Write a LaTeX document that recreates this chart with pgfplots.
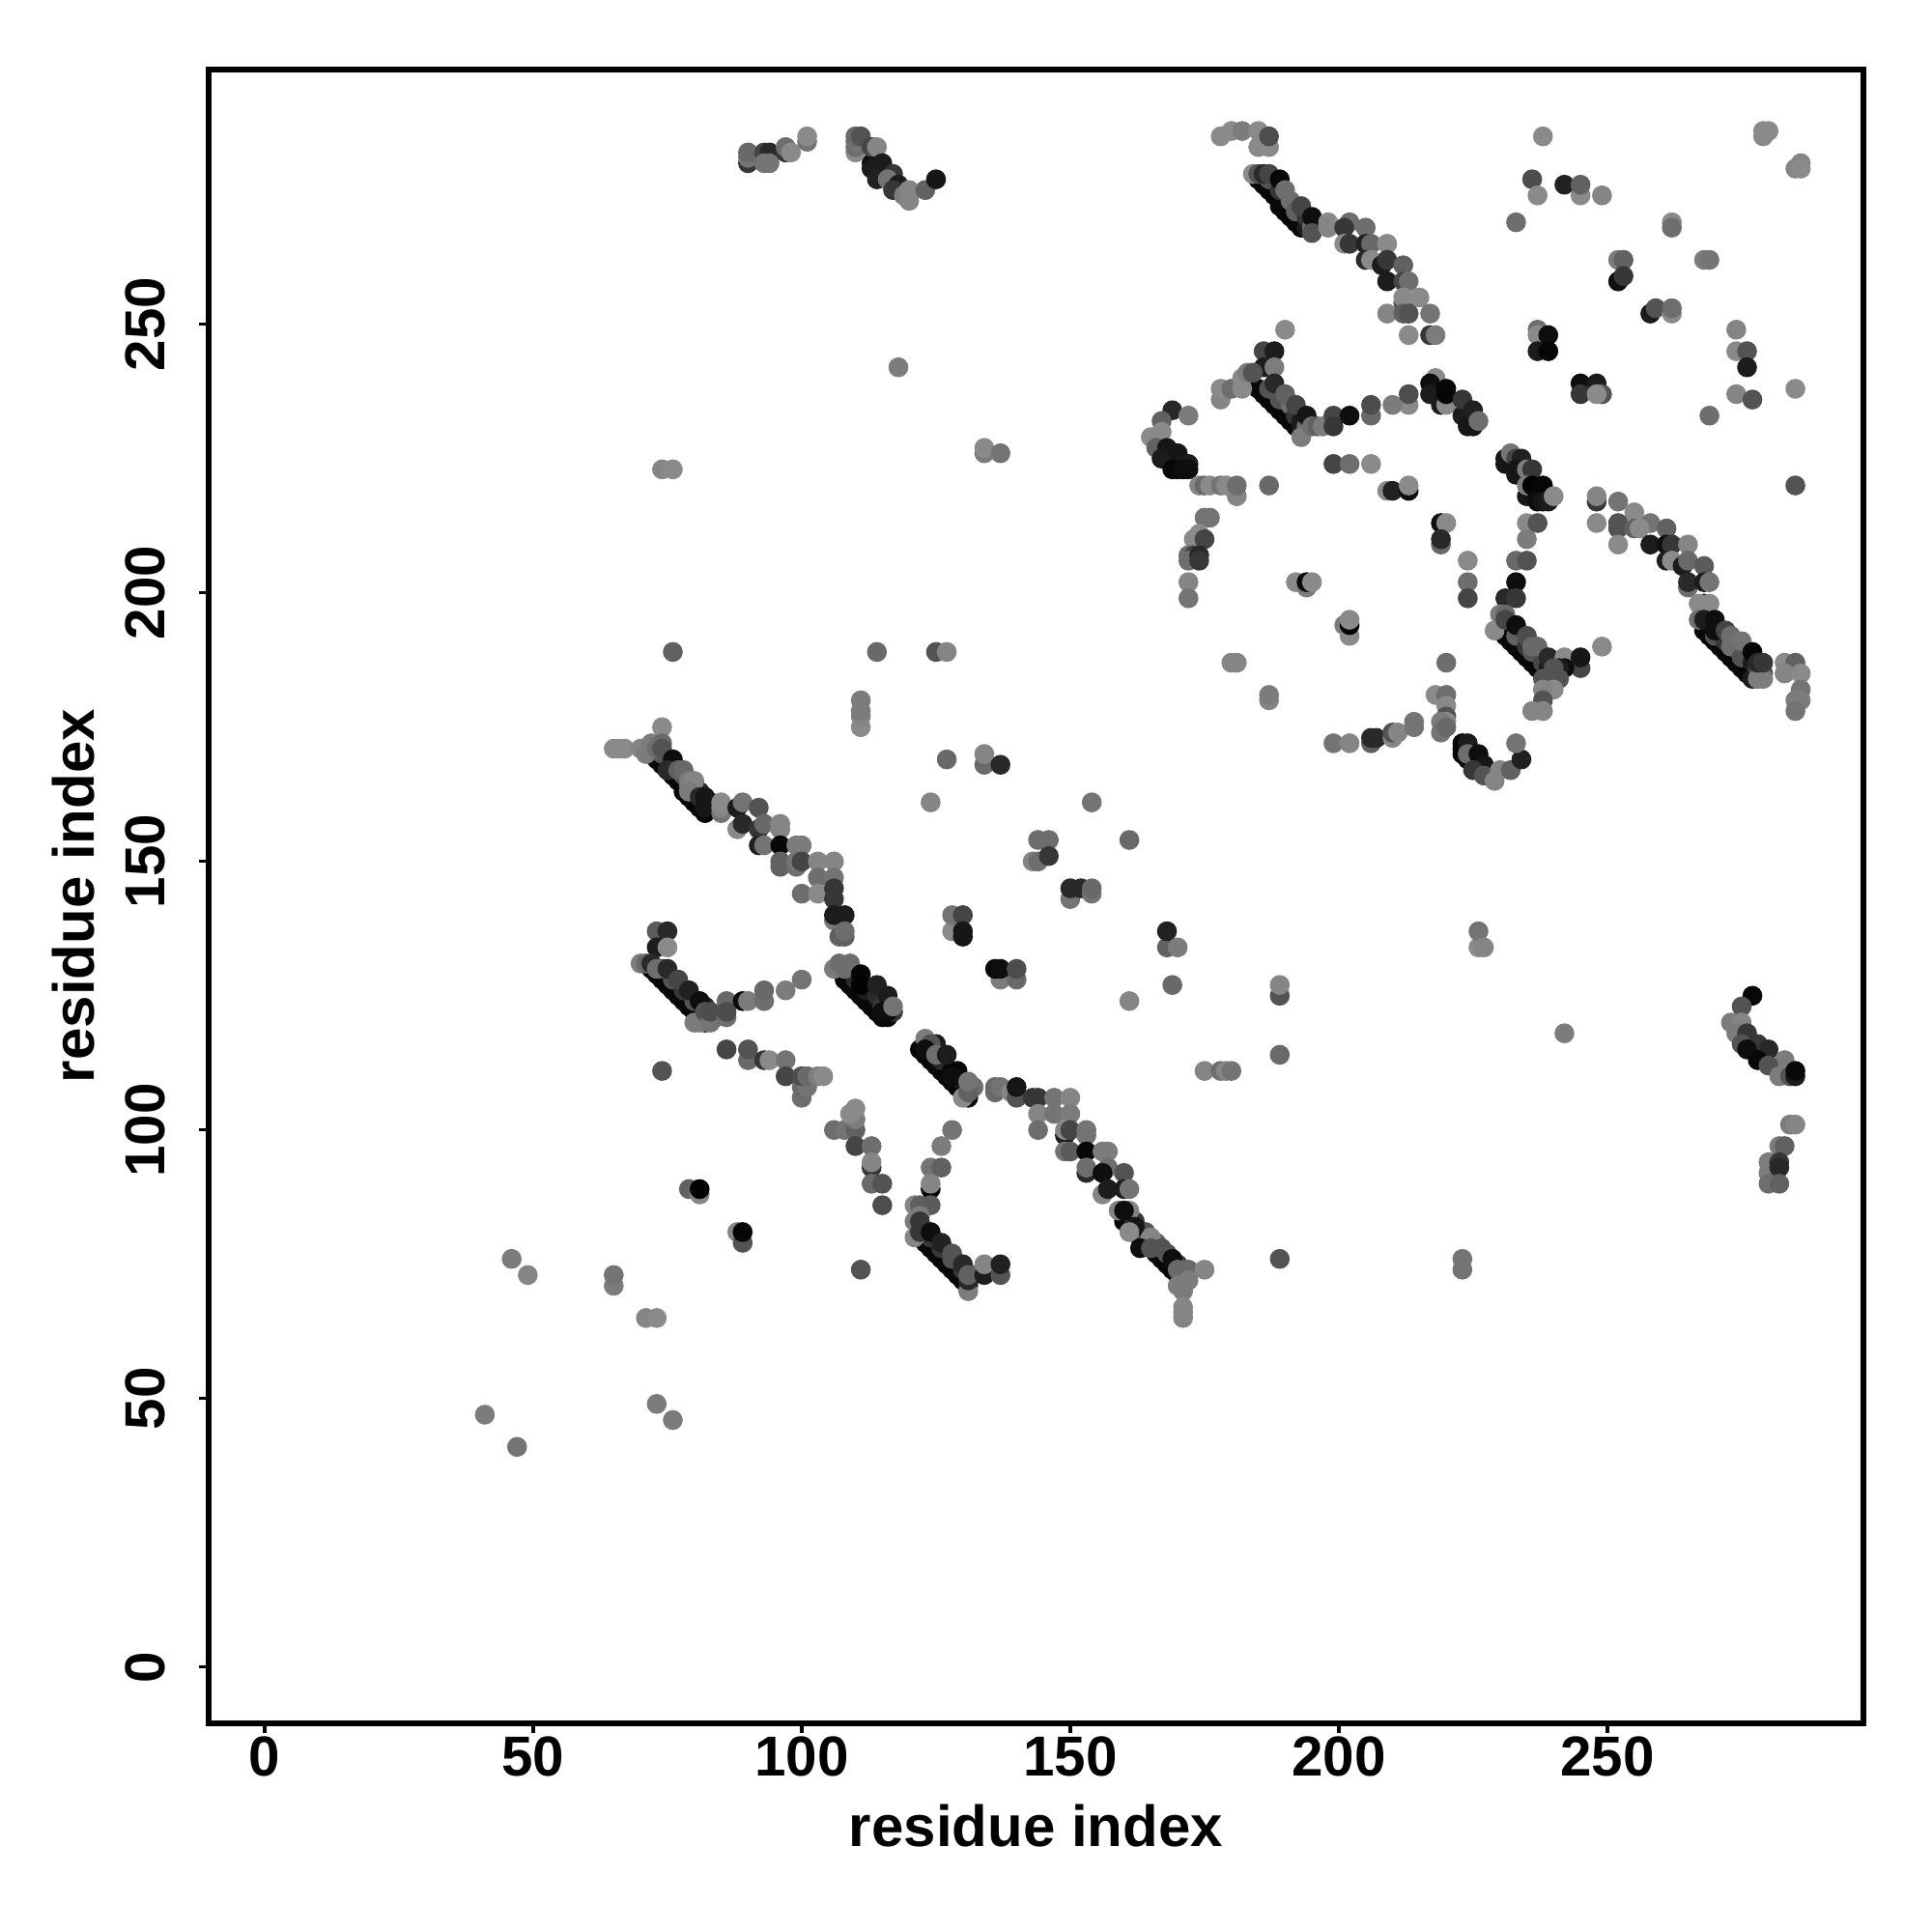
\documentclass[border=0pt]{standalone}
\usepackage{fontspec}
\setmainfont{Liberation Sans}
\usepackage{pgfplots}
\usepackage{pgfplotstable}
\pgfplotsset{compat=1.18}

% x y g (g = grey level, drawn in table order)
\pgfplotstableread{
x y g
185 277 .03
186 276 .03
187 275 .03
188 274 .03
189 272 .03
190 271 .03
191 270 .03
192 269 .03
193 268 .03
194 268 .1
185 238 .03
186 237 .03
187 236 .03
188 235 .03
189 234 .03
190 233 .03
191 232 .03
192 231 .03
193 230 .1
231 192 .03
232 191 .03
233 190 .03
234 189 .03
235 188 .03
236 187 .03
237 186 .03
238 185 .03
239 184 .03
268 193 .03
269 192 .03
270 191 .03
271 190 .03
272 189 .03
273 188 .03
274 187 .03
275 186 .03
276 185 .03
277 184 .1
72 170 .03
73 169 .03
74 168 .03
75 167 .03
76 166 .03
77 165 .03
78 163 .03
79 162 .03
80 161 .03
81 160 .03
82 159 .03
72 130 .03
73 129 .03
74 128 .03
75 127 .03
76 126 .03
77 125 .03
78 124 .03
79 123 .03
80 122 .03
81 121 .03
82 120 .1
108 128 .03
109 127 .03
110 126 .03
111 125 .03
112 124 .03
113 123 .03
114 122 .03
115 121 .03
116 121 .03
122 115 .03
123 114 .03
124 113 .03
125 112 .03
126 111 .03
127 110 .03
128 109 .03
129 108 .03
130 107 .03
131 106 .05
122 80 .03
123 79 .03
124 78 .03
125 77 .03
126 76 .03
127 75 .03
128 74 .03
129 73 .03
130 72 .03
131 71 .05
160 83 .03
161 82 .03
162 81 .03
163 80 .03
164 79 .03
165 78 .03
166 77 .03
167 76 .03
168 75 .03
169 74 .03
170 73 .05
223 172 .03
223 171 .03
223 170 .03
224 169 .03
225 168 .03
226 167 .05
167 226 .03
168 225 .03
169 224 .03
170 223 .03
113 280 .05
114 279 .05
115 278 .05
116 277 .05
117 276 .05
187 277 .3
189 275 .2
191 273 .4
192 271 .35
194 270 .2
195 268 .4
187 238 .3
189 236 .3
191 235 .4
192 233 .2
193 232 .1
194 231 .4
233 192 .35
235 190 .2
236 189 .3
238 187 .25
239 186 .1
270 192 .3
272 191 .2
273 190 .4
275 188 .3
277 187 .1
278 186 .25
74 170 .3
76 168 .2
78 166 .3
79 164 .4
81 163 .15
83 161 .2
74 130 .3
76 128 .3
78 126 .2
80 124 .3
82 123 .15
84 121 .35
110 128 .15
112 126 .1
114 125 .15
115 123 .2
117 122 .2
124 115 .2
126 113 .15
128 111 .03
130 109 .1
132 108 .4
124 80 .2
126 78 .2
128 76 .3
130 74 .2
132 73 .4
162 83 .2
164 81 .3
166 79 .35
168 77 .3
170 75 .2
171 74 .35
178 285 .5
180 286 .5
182 286 .45
185 286 .5
185 283 .5
187 283 .5
187 285 .28
184 278 .5
185 278 .3
186 278 .15
187 278 .25
189 277 .03
190 275 .4
193 272 .25
195 270 .05
195 267 .3
198 269 .5
198 268 .48
202 269 .4
201 268 .2
205 268 .4
201 265 .5
202 265 .2
205 265 .12
206 265 .38
209 265 .5
205 262 .15
206 262 .5
208 261 .1
209 262 .2
212 261 .35
209 258 .1
212 258 .25
213 258 .4
212 254 .3
212 255 .5
215 255 .5
209 252 .48
212 252 .35
213 252 .3
217 252 .42
213 248 .5
217 248 .2
218 248 .45
190 249 .5
186 245 .25
188 245 .1
186 242 .1
188 242 .45
178 236 .48
178 238 .5
180 238 .4
182 240 .5
182 238 .5
183 241 .45
184 241 .3
188 239 .15
190 237 .35
192 235 .25
194 233 .08
193 229 .45
195 231 .4
196 231 .35
197 231 .45
199 233 .25
199 231 .2
202 233 .05
206 233 .38
206 235 .28
213 235 .5
210 235 .45
213 237 .28
218 240 .5
217 239 .05
217 237 .1
219 235 .1
220 235 .5
220 238 .02
220 237 .02
223 233 .1
223 236 .2
224 231 .08
225 231 .08
225 234 .12
226 232 .4
238 285 .5
236 277 .28
237 274 .5
242 276 .12
245 274 .5
245 276 .35
249 274 .48
233 269 .4
262 269 .5
262 268 .4
268 262 .45
269 262 .42
252 262 .45
253 262 .35
252 258 .05
253 259 .2
258 252 .1
259 253 .3
262 252 .5
262 253 .4
279 285 .5
279 286 .5
280 286 .5
285 279 .48
286 280 .48
286 279 .5
237 249 .4
237 248 .5
239 248 .05
237 245 .1
239 245 .02
274 249 .48
274 245 .5
276 245 .3
276 242 .1
245 239 .05
248 239 .1
245 237 .2
249 237 .3
248 237 .5
274 237 .48
277 236 .3
269 233 .4
285 238 .5
285 220 .3
169 234 .15
172 233 .45
167 232 .35
167 230 .5
165 229 .5
166 227 .35
168 227 .08
167 225 .1
170 226 .08
169 223 .03
172 224 .1
172 223 .05
171 223 .05
174 220 .48
175 220 .38
176 220 .5
178 220 .42
179 220 .5
181 218 .48
181 220 .4
187 220 .38
199 224 .25
202 224 .4
206 224 .5
209 219 .5
210 219 .12
213 219 .05
213 220 .5
175 214 .42
176 214 .42
174 211 .5
173 210 .5
175 210 .25
172 207 .4
173 207 .25
172 206 .4
174 207 .15
174 206 .2
172 202 .48
172 199 .42
192 202 .5
194 201 .45
194 202 .03
195 202 .5
201 194 .45
202 192 .5
202 194 .01
202 195 .5
180 187 .48
181 187 .48
187 180 .48
187 181 .45
220 187 .4
219 213 .05
220 213 .5
219 209 .38
219 210 .15
224 206 .5
224 202 .4
224 199 .25
235 213 .5
237 213 .3
235 210 .45
233 206 .38
235 206 .3
233 202 .05
231 199 .15
233 199 .2
231 224 .08
231 225 .08
232 226 .42
233 225 .25
234 225 .12
233 223 .08
233 222 .08
235 223 .45
236 223 .2
235 218 .08
235 220 .45
236 220 .01
238 220 .02
237 218 .02
237 217 .05
238 217 .08
239 217 .1
240 218 .5
248 217 .2
248 218 .48
252 217 .42
255 215 .5
258 213 .42
261 212 .35
252 212 .3
252 213 .3
255 212 .35
256 212 .5
248 213 .5
252 209 .5
258 209 .1
261 209 .05
262 209 .2
265 209 .48
261 206 .1
262 206 .5
264 205 .1
265 206 .38
268 205 .33
265 201 .4
265 202 .15
268 202 .1
269 202 .42
268 198 .02
267 198 .5
269 198 .5
267 195 .4
268 195 .1
270 195 .05
270 193 .05
272 193 .25
273 192 .4
275 191 .42
277 189 .02
279 185 .3
278 184 .45
279 184 .45
278 187 .15
279 187 .2
283 187 .5
285 187 .35
283 185 .48
286 185 .5
286 182 .42
285 180 .45
286 180 .45
285 178 .42
230 196 .45
231 196 .38
229 193 .5
231 195 .25
233 194 .05
235 192 .28
236 190 .38
237 190 .38
239 188 .15
242 188 .5
245 186 .25
245 188 .08
242 186 .05
241 186 .1
240 186 .3
238 184 .3
241 184 .3
240 182 .5
238 182 .48
238 180 .3
236 178 .48
238 178 .48
249 190 .5
218 181 .5
220 181 .4
220 179 .5
220 177 .3
220 176 .5
219 176 .45
219 174 .42
220 175 .38
224 172 .1
224 170 .4
226 170 .05
227 168 .08
225 167 .2
227 166 .3
229 165 .48
230 167 .48
232 167 .35
234 169 .12
233 172 .42
199 172 .42
202 172 .48
206 172 .35
206 173 .15
207 173 .15
210 173 .48
210 174 .3
211 174 .48
214 175 .42
214 176 .42
74 175 .5
65 171 .5
66 171 .5
67 171 .5
70 171 .48
72 172 .45
71 170 .45
74 172 .38
73 171 .4
74 171 .3
76 169 .05
75 167 .15
77 167 .35
78 167 .38
79 165 .45
80 165 .48
79 163 .45
81 162 .15
82 162 .08
82 160 .08
85 159 .42
85 160 .48
85 161 .5
88 160 .1
89 161 .42
88 156 .5
89 157 .15
92 160 .3
92 156 .2
93 157 .38
96 156 .48
96 157 .48
92 153 .12
93 153 .42
96 153 .03
99 153 .45
100 153 .45
96 149 .35
96 150 .35
99 149 .4
99 150 .42
100 150 .25
103 150 .48
106 150 .48
103 147 .4
106 147 .42
100 144 .4
103 144 .5
106 143 .2
106 145 .2
106 139 .45
106 140 .1
108 140 .1
108 136 .35
107 136 .35
108 137 .4
73 137 .33
75 137 .15
73 134 .1
75 134 .5
70 131 .45
71 131 .38
72 131 .15
73 130 .4
75 130 .15
77 128 .25
79 126 .12
81 124 .05
80 120 .45
81 120 .45
82 122 .3
83 120 .42
83 122 .28
86 121 .4
86 124 .38
86 122 .28
89 124 .05
90 124 .45
93 124 .4
93 126 .38
97 126 .45
100 128 .42
106 130 .45
107 131 .4
108 130 .4
109 131 .4
111 129 .02
111 127 .01
114 127 .12
116 125 .1
116 122 .05
115 122 .05
117 123 .42
127 169 .38
134 168 .38
134 170 .48
137 168 .15
124 161 .48
128 137 .5
128 140 .42
130 140 .25
130 137 .08
130 136 .08
137 128 .45
140 128 .38
136 130 .03
137 130 .05
140 130 .28
86 115 .25
90 113 .38
90 115 .3
93 113 .2
94 113 .5
97 113 .42
97 110 .25
100 106 .4
100 108 .38
101 108 .42
100 110 .28
101 110 .38
103 110 .45
104 110 .5
74 111 .3
106 100 .4
108 100 .42
110 100 .35
110 102 .45
109 103 .5
110 104 .5
110 97 .25
113 97 .4
113 93 .2
113 94 .48
113 90 .38
115 90 .3
115 86 .28
79 89 .35
81 88 .48
81 89 .01
88 81 .48
89 79 .3
89 81 .02
111 74 .3
71 65 .48
73 65 .5
128 100 .42
126 97 .45
124 93 .42
126 93 .35
124 89 .02
124 90 .48
121 86 .48
122 86 .35
124 86 .33
122 84 .45
121 83 .45
121 80 .48
122 83 .2
122 81 .2
124 81 .05
126 79 .12
128 77 .3
130 75 .15
131 70 .45
131 72 .15
131 73 .35
134 73 .1
134 75 .48
137 73 .3
137 75 .12
123 117 .45
125 116 .1
124 116 .3
123 115 .05
125 114 .4
127 114 .1
129 111 .02
128 110 .05
130 106 .5
131 107 .35
131 109 .42
136 107 .38
136 108 .38
137 108 .42
139 107 .48
140 106 .3
140 108 .08
143 106 .2
144 106 .2
147 106 .42
150 106 .48
144 103 .48
147 103 .42
150 103 .45
144 100 .4
149 99 .1
149 100 .48
150 100 .25
153 99 .42
153 100 .42
149 96 .42
150 96 .33
153 96 .03
156 96 .45
157 96 .45
153 92 .15
153 93 .4
157 93 .4
156 92 .05
160 92 .3
156 88 .48
157 89 .1
160 89 .1
161 89 .42
159 85 .48
161 85 .48
160 85 .05
162 82 .08
161 81 .5
165 80 .48
163 78 .05
165 78 .3
167 78 .3
169 76 .05
170 74 .38
172 74 .38
175 74 .48
172 72 .45
170 71 .45
171 70 .45
171 67 .48
171 66 .48
171 65 .48
175 111 .48
178 111 .4
179 111 .48
180 111 .42
90 280 .2
90 281 .42
90 282 .38
93 282 .25
94 282 .15
93 280 .42
94 280 .42
97 282 .2
97 283 .4
98 282 .5
101 284 .42
101 285 .5
110 282 .5
110 283 .4
110 284 .42
110 285 .38
111 285 .3
113 283 .25
114 283 .48
115 280 .1
113 279 .1
117 278 .2
114 277 .12
116 277 .42
118 276 .1
117 275 .2
119 274 .45
120 273 .48
120 275 .48
123 275 .35
125 277 .08
118 242 .45
74 223 .48
76 223 .5
134 226 .45
134 227 .5
137 226 .42
76 189 .35
114 189 .38
125 189 .3
127 189 .48
111 175 .5
111 177 .48
111 178 .45
111 180 .45
154 161 .42
161 154 .38
144 154 .4
146 154 .4
143 150 .48
144 150 .4
146 151 .2
150 143 .42
150 145 .15
152 145 .15
154 144 .42
154 145 .38
168 134 .35
168 137 .12
170 134 .45
169 127 .38
161 124 .48
189 125 .3
189 127 .48
189 114 .38
189 76 .3
223 74 .42
223 76 .42
226 134 .5
226 137 .42
227 134 .48
242 118 .45
46 76 .45
49 73 .48
65 71 .45
65 73 .42
73 49 .45
76 46 .45
41 47 .45
47 41 .42
277 125 .03
275 123 .3
273 120 .45
275 120 .48
274 118 .45
276 118 .2
275 116 .3
278 116 .2
276 115 .05
280 115 .15
278 113 .03
283 113 .45
280 112 .3
282 110 .45
284 110 .3
285 110 .1
285 111 .03
284 101 .45
285 101 .48
282 97 .45
283 97 .35
280 94 .45
280 92 .45
282 94 .2
282 93 .15
280 90 .4
282 90 .35
}\contacts

\begin{document}
\begin{tikzpicture}
\useasboundingbox (0,0) rectangle (720pt,720pt);
\begin{axis}[
  at={(77.8pt,77.9pt)}, anchor=south west,
  scale only axis, width=616.5pt, height=616.3pt,
  xmin=-10.4, xmax=297.6, ymin=-10.4, ymax=297.5,
  axis line style={line width=2.1pt, black},
  xtick={0,50,100,150,200,250}, ytick={0,50,100,150,200,250},
  tick pos=left, tick align=outside,
  major tick length=3.6pt, tick style={line width=1.2pt, black},
  /pgf/number format/assume math mode=true,
  tick label style={font=\fontsize{21}{21}\selectfont\bfseries},
  xticklabel style={anchor=center, yshift=-9pt},
  yticklabel style={rotate=90, anchor=center, yshift=20.2pt},
  xlabel={residue index}, ylabel={residue index},
  label style={font=\fontsize{21.6}{21.6}\selectfont\bfseries},
  xlabel style={at={(axis description cs:0.5,0)}, anchor=center, yshift=-38.3pt},
  ylabel style={at={(axis description cs:0,0.5)}, anchor=center, yshift=50.4pt},
  colormap={greys}{gray(0cm)=(0); gray(1cm)=(1)},
  point meta min=0, point meta max=0.93,
  clip=false,
]
\addplot[scatter, only marks, mark=*, mark size=3.5pt, scatter src=explicit,
  scatter/use mapped color={draw=mapped color, fill=mapped color}]
  table[x=x, y=y, meta=g] {\contacts};
\end{axis}
\end{tikzpicture}
\end{document}
